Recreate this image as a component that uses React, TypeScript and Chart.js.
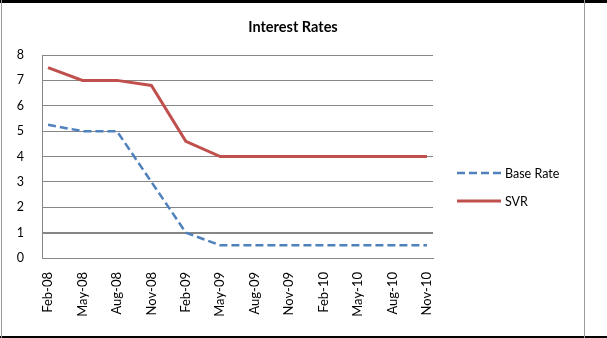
import React, { useEffect, useRef } from "react";
import { Chart, registerables } from "chart.js";

Chart.register(...registerables);

const months = [
  "Feb-08", "May-08", "Aug-08", "Nov-08",
  "Feb-09", "May-09", "Aug-09", "Nov-09",
  "Feb-10", "May-10", "Aug-10", "Nov-10",
];
const baseRate = [5.25, 5, 5, 3, 1, 0.5, 0.5, 0.5, 0.5, 0.5, 0.5, 0.5];
const svr = [7.5, 7, 7, 6.8, 4.6, 4, 4, 4, 4, 4, 4, 4];
const yTicks = [0, 1, 2, 3, 4, 5, 6, 7, 8];

const FONT = "Lato, 'Open Sans', sans-serif";
const BLUE = "#4F81BD";
const RED = "#C0504D";
const GRID = "#868686";

// Title, legend and the outer frame are painted around the plot.
const decorations = {
  id: "decorations",
  afterDraw(chart: any) {
    const ctx = chart.ctx as CanvasRenderingContext2D;
    const W = chart.width;
    const H = chart.height;
    ctx.save();

    // frame
    ctx.fillStyle = "#000";
    ctx.fillRect(0, 0, W, 3);
    ctx.fillRect(0, H - 2, W, 2);
    ctx.fillStyle = "#9a9a9a";
    ctx.fillRect(1, 0, 1, H);
    ctx.fillRect(584, 0, 1, H);

    // title
    ctx.fillStyle = "#000";
    ctx.font = `bold 14.5px ${FONT}`;
    ctx.textAlign = "center";
    ctx.textBaseline = "alphabetic";
    ctx.fillText("Interest Rates", 293, 32);

    // legend
    const items = chart.data.datasets.map((ds: any) => ({
      label: ds.label,
      color: ds.borderColor,
      dash: ds.borderDash || [],
      width: ds.borderWidth,
    }));
    const rowY = [173, 201];
    ctx.font = `12.5px ${FONT}`;
    ctx.textAlign = "left";
    ctx.textBaseline = "middle";
    items.forEach((it: any, i: number) => {
      const y = rowY[i];
      ctx.beginPath();
      ctx.setLineDash(it.dash);
      ctx.strokeStyle = it.color;
      ctx.lineWidth = it.width;
      ctx.moveTo(457, y);
      ctx.lineTo(501, y);
      ctx.stroke();
      ctx.setLineDash([]);
      ctx.fillStyle = "#000";
      ctx.fillText(it.label, 505, y + 1);
    });
    ctx.restore();
  },
};

export default function App() {
  const ref = useRef<HTMLCanvasElement>(null);

  useEffect(() => {
    document.body.style.margin = "0";
    document.body.style.background = "#fff";
    if (!ref.current) return;
    const chart = new Chart(ref.current, {
      type: "line",
      data: {
        datasets: [
          {
            label: "Base Rate",
            data: baseRate.map((v, i) => ({ x: i, y: v })),
            borderColor: BLUE,
            backgroundColor: BLUE,
            borderWidth: 2.5,
            borderDash: [8, 4],
            pointRadius: 0,
            tension: 0,
          },
          {
            label: "SVR",
            data: svr.map((v, i) => ({ x: i, y: v })),
            borderColor: RED,
            backgroundColor: RED,
            borderWidth: 3,
            pointRadius: 0,
            tension: 0,
          },
        ],
      },
      options: {
        responsive: false,
        animation: false,
        events: [],
        layout: { padding: { top: 55, right: 174, left: 0, bottom: 0 } },
        plugins: {
          legend: { display: false },
          title: { display: false },
          tooltip: { enabled: false },
        },
        scales: {
          x: {
            type: "linear",
            min: -0.175,
            max: months.length - 1 + 0.175,
            afterBuildTicks: (scale: any) => {
              scale.ticks = months.map((_, i) => ({ value: i }));
            },
            afterFit: (scale: any) => {
              scale.height = 80;
            },
            grid: { display: false, drawTicks: false },
            border: { display: true, color: GRID, width: 1 },
            ticks: {
              autoSkip: false,
              minRotation: 90,
              maxRotation: 90,
              padding: 14,
              color: "#000",
              font: { family: FONT, size: 13 },
              callback: (v: any) => months[Math.round(Number(v))] ?? "",
            },
          },
          y: {
            min: 0,
            max: 8,
            afterBuildTicks: (scale: any) => {
              scale.ticks = yTicks.map((v) => ({ value: v }));
            },
            afterFit: (scale: any) => {
              scale.width = 42;
            },
            grid: {
              color: GRID,
              lineWidth: (c: any) => (c.tick && c.tick.value === 1 ? 2 : 1),
              drawTicks: false,
            },
            border: { display: true, color: GRID, width: 1 },
            ticks: {
              padding: 18,
              color: "#000",
              font: { family: FONT, size: 12.5 },
            },
          },
        },
      },
      plugins: [decorations],
    });
    return () => chart.destroy();
  }, []);

  return <canvas ref={ref} width={607} height={338} style={{ display: "block" }} />;
}
